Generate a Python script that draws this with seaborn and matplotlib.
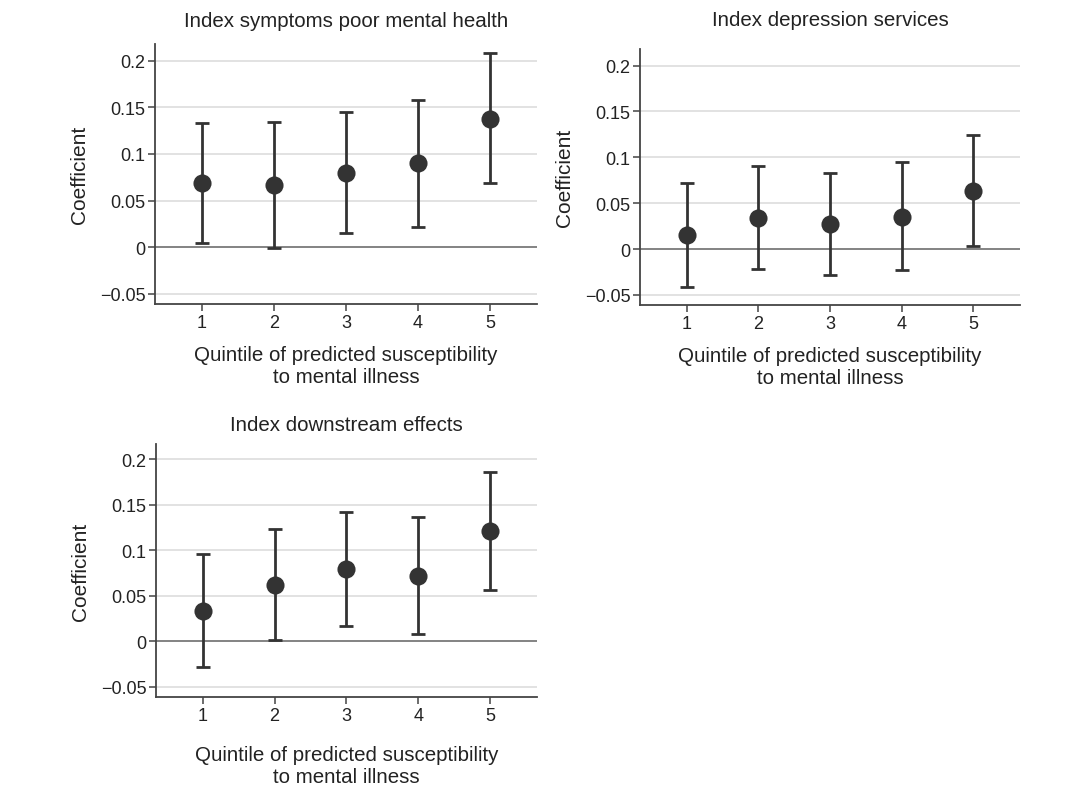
import matplotlib
matplotlib.use("Agg")
import matplotlib.pyplot as plt
import seaborn as sns
import pandas as pd

quintiles = [1, 2, 3, 4, 5]

titles = ["Index symptoms poor mental health",
          "Index depression services",
          "Index downstream effects"]

coef_symptoms = [0.0688, 0.0667, 0.0796, 0.0900, 0.1380]
lo_symptoms = [0.0043, -0.0014, 0.0147, 0.0218, 0.0685]
hi_symptoms = [0.1330, 0.1347, 0.1450, 0.1580, 0.2080]

coef_services = [0.0156, 0.0343, 0.0273, 0.0354, 0.0634]
lo_services = [-0.0414, -0.0219, -0.0280, -0.0234, 0.0028]
hi_services = [0.0722, 0.0906, 0.0832, 0.0945, 0.1240]

coef_downstream = [0.0333, 0.0620, 0.0789, 0.0720, 0.1208]
lo_downstream = [-0.0287, 0.0007, 0.0161, 0.0082, 0.0563]
hi_downstream = [0.0953, 0.1233, 0.1416, 0.1362, 0.1853]

yticks = [-0.05, 0, 0.05, 0.1, 0.15, 0.2]
ytick_labels = ["\u22120.05", "0", "0.05", "0.1", "0.15", "0.2"]

sns.set_style("white")
plt.rcParams['font.family'] = ['Liberation Sans', 'DejaVu Sans']

W, H = 1080, 804
fig = plt.figure(figsize=(10.8, 8.04), dpi=100)

def rect(l, t, r, b):
    return [l / W, 1 - b / H, (r - l) / W, (b - t) / H]

panels = [
    (rect(155, 45, 537, 305), coef_symptoms, lo_symptoms, hi_symptoms, 10, 13, (-0.061, 0.218)),
    (rect(640, 50, 1020, 306), coef_services, lo_services, hi_services, 10, 17, (-0.061, 0.218)),
    (rect(156, 445, 537, 698), coef_downstream, lo_downstream, hi_downstream, 15, 10, (-0.0615, 0.2165)),
]

dark = "#333333"
for (pos, coef, lo, hi, lpad, tpad, ylim), title in zip(panels, titles):
    ax = fig.add_axes(pos)
    df = pd.DataFrame({"q": quintiles, "coef": coef, "lo": lo, "hi": hi})
    for yv in [-0.05, 0.05, 0.1, 0.15, 0.2]:
        ax.axhline(yv, color="#dddddd", lw=1.2, zorder=0)
    ax.axhline(0, color="#6e6e6e", lw=1.2, zorder=1)
    ax.errorbar(df["q"], df["coef"],
                yerr=[df["coef"] - df["lo"], df["hi"] - df["coef"]],
                fmt="none", ecolor=dark, elinewidth=2.0, capsize=5,
                capthick=2.0, zorder=2)
    sns.scatterplot(data=df, x="q", y="coef", ax=ax, s=170, color=dark,
                    edgecolor=dark, linewidth=0, zorder=3, legend=False)
    ax.set_xlim(0.35, 5.65)
    ax.set_ylim(*ylim)
    ax.set_xticks(quintiles)
    ax.set_xticklabels([str(q) for q in quintiles])
    ax.set_yticks(yticks)
    ax.set_yticklabels(ytick_labels)
    for s in ["top", "right"]:
        ax.spines[s].set_visible(False)
    for s in ["left", "bottom"]:
        ax.spines[s].set_color("#444444")
        ax.spines[s].set_linewidth(1.3)
    ax.tick_params(axis="both", which="both", direction="out", length=5,
                   width=1.1, color="#444444", labelsize=13,
                   labelcolor="#222222", left=True, bottom=True, pad=2)
    ax.set_ylabel("Coefficient", fontsize=15, color="#222222", labelpad=8)
    ax.set_xlabel("Quintile of predicted susceptibility\nto mental illness",
                  fontsize=14.8, color="#222222", labelpad=lpad, linespacing=1.2)
    ax.set_title(title, fontsize=14.8, color="#222222", pad=tpad)

fig.savefig("out.png", dpi=100, facecolor="white")
